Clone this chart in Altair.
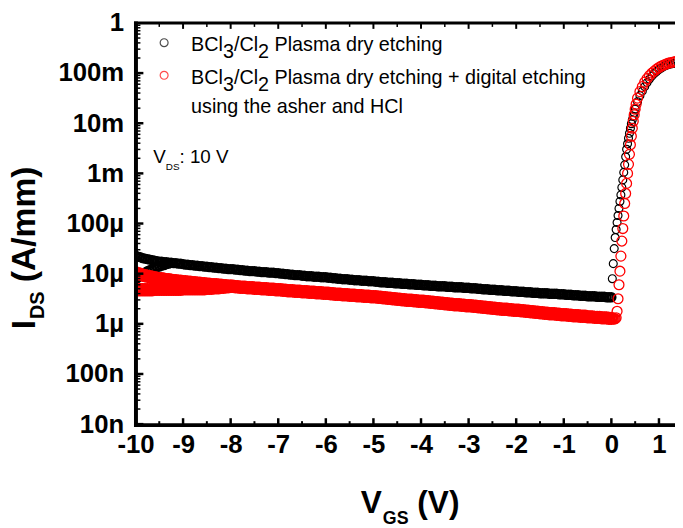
import altair as alt
import pandas as pd

# ---------------- data (log10 of I_DS in A/mm) ----------------
vgs_off = [round(-10 + 0.05 * i, 2) for i in range(201)]   # sweep grid -10 .. 0 V

black_off_log = [
    -4.64, -4.66, -4.67, -4.69, -4.70, -4.71, -4.72, -4.73, -4.74, -4.75, -4.76,
    -4.76, -4.77, -4.77, -4.78, -4.78, -4.79, -4.79, -4.80, -4.80, -4.81,
    -4.82, -4.82, -4.83, -4.83, -4.84, -4.84, -4.85, -4.85, -4.86, -4.86,
    -4.87, -4.87, -4.88, -4.88, -4.89, -4.89, -4.90, -4.90, -4.91, -4.91,
    -4.91, -4.92, -4.92, -4.93, -4.93, -4.94, -4.94, -4.95, -4.95, -4.95,
    -4.96, -4.96, -4.97, -4.97, -4.97, -4.98, -4.98, -4.98, -4.99, -4.99,
    -5.00, -5.00, -5.01, -5.01, -5.02, -5.02, -5.03, -5.03, -5.03, -5.04,
    -5.04, -5.05, -5.05, -5.05, -5.06, -5.06, -5.06, -5.07, -5.07, -5.07,
    -5.08, -5.08, -5.09, -5.09, -5.10, -5.10, -5.11, -5.11, -5.11, -5.12,
    -5.12, -5.13, -5.13, -5.13, -5.14, -5.14, -5.14, -5.15, -5.15, -5.15,
    -5.16, -5.16, -5.17, -5.17, -5.17, -5.18, -5.18, -5.18, -5.19, -5.19,
    -5.19, -5.20, -5.20, -5.20, -5.21, -5.21, -5.21, -5.22, -5.22, -5.22,
    -5.23, -5.23, -5.23, -5.24, -5.24, -5.24, -5.25, -5.25, -5.25, -5.25,
    -5.26, -5.26, -5.26, -5.27, -5.27, -5.27, -5.27, -5.28, -5.28, -5.28,
    -5.29, -5.29, -5.29, -5.30, -5.30, -5.31, -5.31, -5.31, -5.32, -5.32,
    -5.32, -5.33, -5.33, -5.33, -5.34, -5.34, -5.34, -5.35, -5.35, -5.35,
    -5.36, -5.36, -5.36, -5.37, -5.37, -5.37, -5.38, -5.38, -5.38, -5.39,
    -5.39, -5.39, -5.39, -5.40, -5.40, -5.40, -5.40, -5.41, -5.41, -5.41,
    -5.42, -5.42, -5.42, -5.43, -5.43, -5.43, -5.44, -5.44, -5.44, -5.45,
    -5.45, -5.45, -5.45, -5.46, -5.46, -5.46, -5.46, -5.47, -5.47, -5.47,
]
red_off_log = [
    -4.98, -5.00, -5.01, -5.03, -5.04, -5.05, -5.06, -5.07, -5.08, -5.09, -5.10,
    -5.10, -5.11, -5.12, -5.12, -5.13, -5.14, -5.14, -5.15, -5.15, -5.16,
    -5.16, -5.17, -5.17, -5.18, -5.18, -5.19, -5.19, -5.20, -5.20, -5.21,
    -5.21, -5.22, -5.22, -5.22, -5.23, -5.23, -5.24, -5.24, -5.25, -5.25,
    -5.25, -5.26, -5.26, -5.27, -5.27, -5.27, -5.28, -5.28, -5.28, -5.29,
    -5.29, -5.29, -5.30, -5.30, -5.30, -5.31, -5.31, -5.31, -5.32, -5.32,
    -5.32, -5.33, -5.33, -5.34, -5.34, -5.34, -5.35, -5.35, -5.35, -5.36,
    -5.36, -5.36, -5.37, -5.37, -5.37, -5.38, -5.38, -5.38, -5.39, -5.39,
    -5.39, -5.40, -5.40, -5.41, -5.41, -5.41, -5.42, -5.42, -5.42, -5.43,
    -5.43, -5.43, -5.44, -5.44, -5.44, -5.45, -5.45, -5.45, -5.46, -5.46,
    -5.46, -5.47, -5.47, -5.48, -5.48, -5.49, -5.49, -5.50, -5.50, -5.51,
    -5.51, -5.52, -5.52, -5.53, -5.53, -5.53, -5.54, -5.54, -5.55, -5.55,
    -5.55, -5.56, -5.56, -5.57, -5.57, -5.58, -5.58, -5.59, -5.59, -5.60,
    -5.60, -5.61, -5.61, -5.62, -5.62, -5.62, -5.63, -5.63, -5.64, -5.64,
    -5.64, -5.65, -5.65, -5.66, -5.66, -5.67, -5.67, -5.68, -5.68, -5.69,
    -5.69, -5.70, -5.70, -5.71, -5.71, -5.71, -5.72, -5.72, -5.73, -5.73,
    -5.73, -5.74, -5.74, -5.75, -5.75, -5.76, -5.76, -5.77, -5.77, -5.78,
    -5.78, -5.79, -5.79, -5.80, -5.80, -5.80, -5.81, -5.81, -5.82, -5.82,
    -5.82, -5.83, -5.83, -5.84, -5.84, -5.84, -5.85, -5.85, -5.85, -5.86,
    -5.86, -5.86, -5.87, -5.87, -5.87, -5.88, -5.88, -5.88, -5.89, -5.89,
]

black_on_vgs = [0.02, 0.04, 0.06, 0.08, 0.10, 0.12, 0.14, 0.16, 0.18, 0.20,
                0.22, 0.24, 0.26, 0.28, 0.30, 0.32, 0.34, 0.36, 0.38, 0.40,
                0.42, 0.44, 0.46, 0.48, 0.50, 0.55, 0.60, 0.65, 0.70, 0.75,
                0.80, 0.85, 0.90, 0.95, 1.00, 1.05, 1.10, 1.15, 1.20, 1.25,
                1.30, 1.35]
black_on_log = [-5.10, -4.80, -4.50, -4.28, -4.12, -3.98, -3.84, -3.70, -3.56, -3.43,
                -3.28, -3.13, -2.98, -2.83, -2.67, -2.52, -2.41, -2.30, -2.20, -2.10,
                -2.01, -1.93, -1.86, -1.79, -1.72, -1.57, -1.45, -1.36, -1.27, -1.19,
                -1.12, -1.06, -1.01, -0.97, -0.93, -0.90, -0.87, -0.85, -0.83, -0.82,
                -0.81, -0.80]

red_on_vgs = [0.02, 0.04, 0.06, 0.08, 0.10, 0.12, 0.14, 0.16, 0.18, 0.20,
              0.22, 0.24, 0.26, 0.28, 0.30, 0.32, 0.34, 0.36, 0.38, 0.40,
              0.42, 0.44, 0.46, 0.48, 0.50, 0.52, 0.55, 0.60, 0.65, 0.70,
              0.75, 0.80, 0.85, 0.90, 0.95, 1.00, 1.05, 1.10, 1.15, 1.20,
              1.25, 1.30, 1.35]
red_on_log = [-5.89, -5.90, -5.90, -5.90, -5.88, -5.75, -5.50, -5.22, -4.95, -4.65,
              -4.35, -4.10, -3.85, -3.60, -3.40, -3.20, -3.00, -2.82, -2.62, -2.43,
              -2.26, -2.10, -1.96, -1.83, -1.72, -1.62, -1.50, -1.37, -1.27, -1.18,
              -1.11, -1.05, -1.00, -0.96, -0.92, -0.89, -0.86, -0.84, -0.82, -0.80,
              -0.79, -0.78, -0.77]

black_lo_vgs = [round(-10 + 0.05 * i, 2) for i in range(15)]
black_lo_log = [-5.12, -5.08, -5.04, -5.01, -4.98, -4.95, -4.93, -4.91, -4.89, -4.87,
                -4.86, -4.84, -4.83, -4.81, -4.80]

red_lo_vgs = [round(-10 + 0.05 * i, 2) for i in range(41)]
red_lo_log = [-5.32] * 8 + [-5.31] * 12 + [-5.30] * 10 + [-5.29] * 3 + [-5.28] * 3 \
    + [-5.27] * 2 + [-5.26] * 2 + [-5.25]

x_major = list(range(-10, 2))
x_minor = [v + 0.5 for v in range(-10, 1)]
y_decades = [1e-8, 1e-7, 1e-6, 1e-5, 1e-4, 1e-3, 1e-2, 1e-1, 1.0]
y_minor = [k * 10.0 ** e for e in range(-8, 0) for k in range(2, 10)]

# ---------------- tables ----------------
def table(vgs, logs):
    return pd.DataFrame({"vgs": vgs, "ids": [10.0 ** v for v in logs]})

df_black_off = pd.concat([table(black_lo_vgs, black_lo_log),
                          table(vgs_off, black_off_log)], ignore_index=True)
df_black_on = table(black_on_vgs, black_on_log)
df_red_off = pd.concat([table(red_lo_vgs, red_lo_log),
                        table(vgs_off, red_off_log)], ignore_index=True)
df_red_on = table(red_on_vgs, red_on_log)

W, H = 546, 406
FONT = "Liberation Sans"

xs = alt.Scale(domain=[-10, 1.337], nice=False, zero=False)
ys = alt.Scale(type="log", domain=[1e-8, 1], nice=False)

x_axis = alt.Axis(values=x_major, labelExpr="datum.value + ''", labelFont=FONT,
                  labelFontSize=26, labelFontWeight="bold", labelColor="black",
                  ticks=False, domain=False, grid=False, labelPadding=8, title=None,
                  labelOverlap=False, labelFlush=False, labelBound=False)
y_axis = alt.Axis(values=y_decades, format="~s", labelFont=FONT,
                  labelFontSize=26, labelFontWeight="bold", labelColor="black",
                  ticks=False, domain=False, grid=False, labelPadding=12, title=None,
                  labelOverlap=False, labelFlush=False, labelBound=False)

X = lambda f: alt.X(f, scale=xs, axis=x_axis)
Y = lambda f: alt.Y(f, scale=ys, axis=y_axis)

def pts(df, color, size, sw):
    return alt.Chart(df).mark_point(
        shape="circle", filled=False, size=size, strokeWidth=sw, color=color,
        opacity=1, clip=True
    ).encode(x=X("vgs:Q"), y=Y("ids:Q"))

point_layers = [
    pts(df_black_off, "black", 64, 2.5),
    pts(df_black_on, "black", 64, 1.2),
    pts(df_red_off, "#ff0000", 115, 2.8),
    pts(df_red_on, "#ff0000", 100, 1.3),
]

one = alt.Data(values=[{}])

# frame lines
frame_left = alt.Chart(one).mark_rule(color="black", strokeWidth=4).encode(
    x=alt.value(0.5), y=alt.value(-1.5), y2=alt.value(409))
frame_bottom = alt.Chart(one).mark_rule(color="black", strokeWidth=4).encode(
    x=alt.value(-1.5), x2=alt.value(W), y=alt.value(407))
frame_top = alt.Chart(one).mark_rule(color="black", strokeWidth=3).encode(
    x=alt.value(-1.5), x2=alt.value(W), y=alt.value(0))

# ticks (inward)
def xticks(vals, y0, y1, sw):
    return alt.Chart(pd.DataFrame({"v": vals})).mark_rule(color="black", strokeWidth=sw).encode(
        x=X("v:Q"), y=alt.value(y0), y2=alt.value(y1))

def yticks(vals, length, sw):
    return alt.Chart(pd.DataFrame({"v": vals})).mark_rule(color="black", strokeWidth=sw).encode(
        y=Y("v:Q"), x=alt.value(0), x2=alt.value(length))

tick_layers = [
    xticks(x_major, 407, 400, 2.5), xticks(x_minor, 407, 403, 2),
    xticks(x_major, 0, 6, 2), xticks(x_minor, 0, 4, 1.5),
    yticks([v for v in y_decades if v < 1], 8, 2.5), yticks(y_minor, 5, 1.5),
]

# text helpers
REG = {" ": 278, "B": 667, "C": 722, "l": 222, "3": 556, "/": 278, "2": 556,
       "V": 667, "D": 722, "S": 667}
BOLD = {" ": 278, "I": 278, "V": 667, "G": 778, "S": 667, "D": 722}

def tw(s, size, bold=False):
    t = BOLD if bold else REG
    return sum(t[c] for c in s) * size / 1000.0

def txt(s, x, y, size, bold=False, angle=0, color="black"):
    return alt.Chart(one).mark_text(
        text=s, font=FONT, fontSize=size, fontWeight="bold" if bold else "normal",
        align="left", baseline="alphabetic", angle=angle, color=color
    ).encode(x=alt.value(x), y=alt.value(y))

texts = []
# legend
LX, FS, SUB = 56.3, 20, 7
for yb, tail in [(28, "Plasma dry etching"),
                 (61.7, "Plasma dry etching + digital etching")]:
    x = LX
    for piece, dy in [("BCl", 0), ("3", SUB), ("/Cl", 0), ("2", SUB)]:
        texts.append(txt(piece, x, yb + dy, FS))
        x += tw(piece, FS)
    texts.append(txt(tail, x + tw(" ", FS), yb, FS))
texts.append(txt("using the asher and HCl", LX, 91, FS))

legend_pts = [
    alt.Chart(one).mark_point(shape="circle", filled=False, size=64, strokeWidth=1.2,
                              color=c).encode(x=alt.value(29), y=alt.value(yy))
    for c, yy in [("black", 20), ("#ff0000", 53)]
]

# V_DS annotation
ax = 18
texts.append(txt("V", ax, 141.7, 19))
ax += tw("V", 19)
texts.append(txt("DS", ax, 149, 10))
ax += tw("DS", 10)
texts.append(txt(": 10 V", ax, 141.7, 19))

# x title
tx = 228
texts.append(txt("V", tx, 496, 32, True))
tx += tw("V", 32, True) + 1
texts.append(txt("GS", tx, 507, 18, True))
tx += tw("GS", 18, True) + tw(" ", 32, True)
texts.append(txt("(V)", tx, 496, 32, True))

# y title (rotated)
ty = 310
texts.append(txt("I", -102, ty, 34, True, angle=270))
ty -= tw("I", 34, True) + 1
texts.append(txt("DS", -93, ty, 20, True, angle=270))
ty -= tw("DS", 20, True) + tw(" ", 34, True)
texts.append(txt("(A/mm)", -102, ty, 34, True, angle=270))

chart = alt.layer(
    *point_layers, frame_left, frame_bottom, frame_top, *tick_layers,
    *legend_pts, *texts
).properties(
    width=W, height=H,
    autosize=alt.AutoSizeParams(type="none"),
    padding={"left": 129, "top": 12, "right": 0, "bottom": 102},
    background="white",
).configure_view(strokeWidth=0)

chart.save("out.html", embed_options={"renderer": "svg", "actions": False})
